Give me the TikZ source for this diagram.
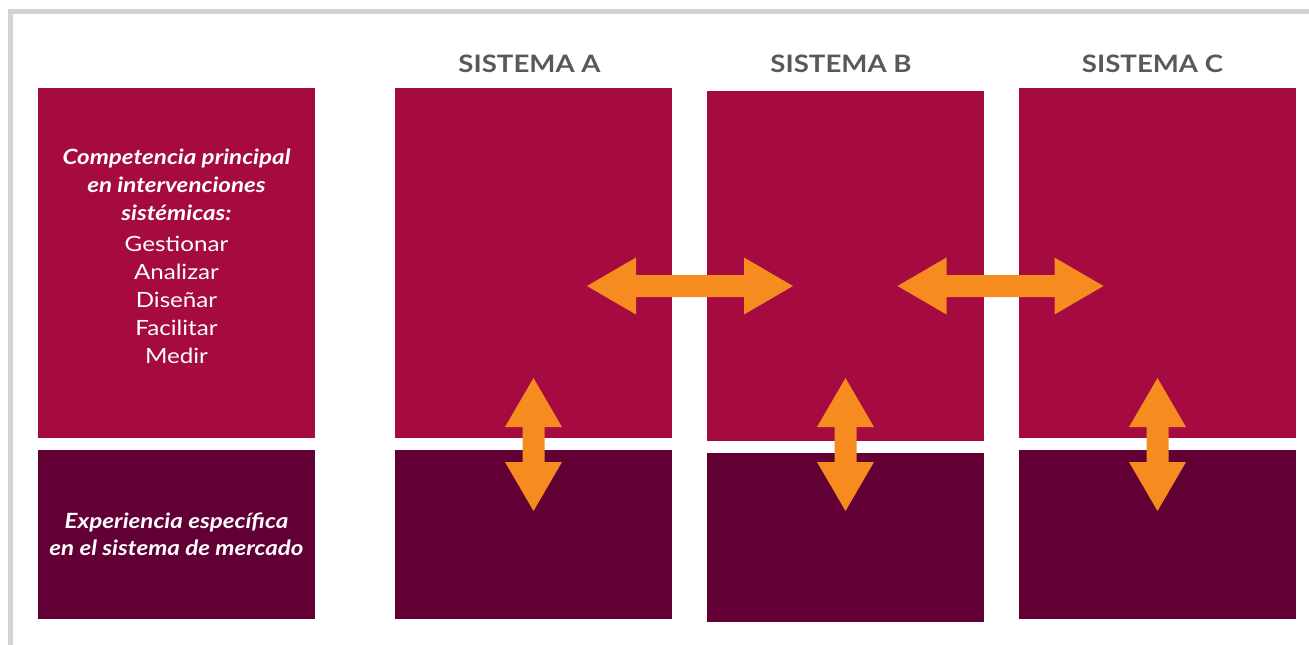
\documentclass[tikz,border=0pt]{standalone}
\usepackage{fontspec}
\setmainfont{Lato}[FakeStretch=1.15]
\usetikzlibrary{calc}

\definecolor{crimson}{HTML}{A50A40}
\definecolor{plum}{HTML}{620035}
\definecolor{tangerine}{HTML}{F68B1F}
\definecolor{slate}{HTML}{58595B}
\definecolor{framegray}{HTML}{D3D3D5}

\tikzset{
    core/.style={fill=crimson, minimum width=277pt, minimum height=350pt, inner sep=0pt},
    market/.style={fill=plum, minimum width=277pt, minimum height=169pt, inner sep=0pt,
        text=white, align=center, font=\fontsize{21}{27}\selectfont\bfseries\itshape},
    systitle/.style={anchor=base, text=slate, font=\fontsize{24}{28}\selectfont\bfseries},
    skills/.style={text=white, align=center, inner sep=0pt, font=\fontsize{21}{28}\selectfont},
    link/.style={fill=tangerine},
}

% block double arrow: centre, half length, angle
\newcommand{\dblarrow}[3]{%
    \begin{scope}[shift={(#1)}, rotate=#3]
        \fill[link] (-#2,0) -- (-#2+49,28.5) -- (-#2+49,11) -- (#2-49,11) -- (#2-49,28.5)
            -- (#2,0) -- (#2-49,-28.5) -- (#2-49,-11) -- (-#2+49,-11) -- (-#2+49,-28.5) -- cycle;
    \end{scope}}
\newcommand{\lead}[1]{{\bfseries\itshape #1}}

\begin{document}
\begin{tikzpicture}[x=1pt, y=-1pt]
    \useasboundingbox (0,0) rectangle (1309,645);
    \draw[framegray, line width=5pt] (10.5,645) -- (10.5,11.5) -- (1309,11.5);

    % left column
    \node[core] (compTop) at (176.5,263) {};
    \node[market] (compBot) at (176.5,534.5) {Experiencia específica\\en el sistema de mercado};
    \node[skills] (compText) at (176.5,256.5) {\lead{Competencia principal}\\
        \lead{en intervenciones}\\ \lead{sistémicas:}\\[3pt]
        Gestionar\\ Analizar\\ Diseñar\\ Facilitar\\ Medir};

    % systems
    \node[core] (sysAtop) at (533.5,263) {};
    \node[market] (sysAbot) at (533.5,534.5) {};
    \node[systitle] (titleA) at (529.5,72) {SISTEMA A};

    \node[core] (sysBtop) at (845.5,266) {};
    \node[market] (sysBbot) at (845.5,537.5) {};
    \node[systitle] (titleB) at (841,72) {SISTEMA B};

    \node[core] (sysCtop) at (1157.5,263) {};
    \node[market] (sysCbot) at (1157.5,534.5) {};
    \node[systitle] (titleC) at (1152.5,72) {SISTEMA C};

    % arrows
    \coordinate (ab) at (690,286);
    \coordinate (bc) at (1000.5,286);
    \coordinate (aa) at (533.5,444.5);
    \coordinate (bb) at (845.5,444.5);
    \coordinate (cc) at (1157.5,444.5);
    \dblarrow{ab}{103}{0}
    \dblarrow{bc}{103}{0}
    \dblarrow{aa}{66.5}{90}
    \dblarrow{bb}{66.5}{90}
    \dblarrow{cc}{66.5}{90}
\end{tikzpicture}
\end{document}
